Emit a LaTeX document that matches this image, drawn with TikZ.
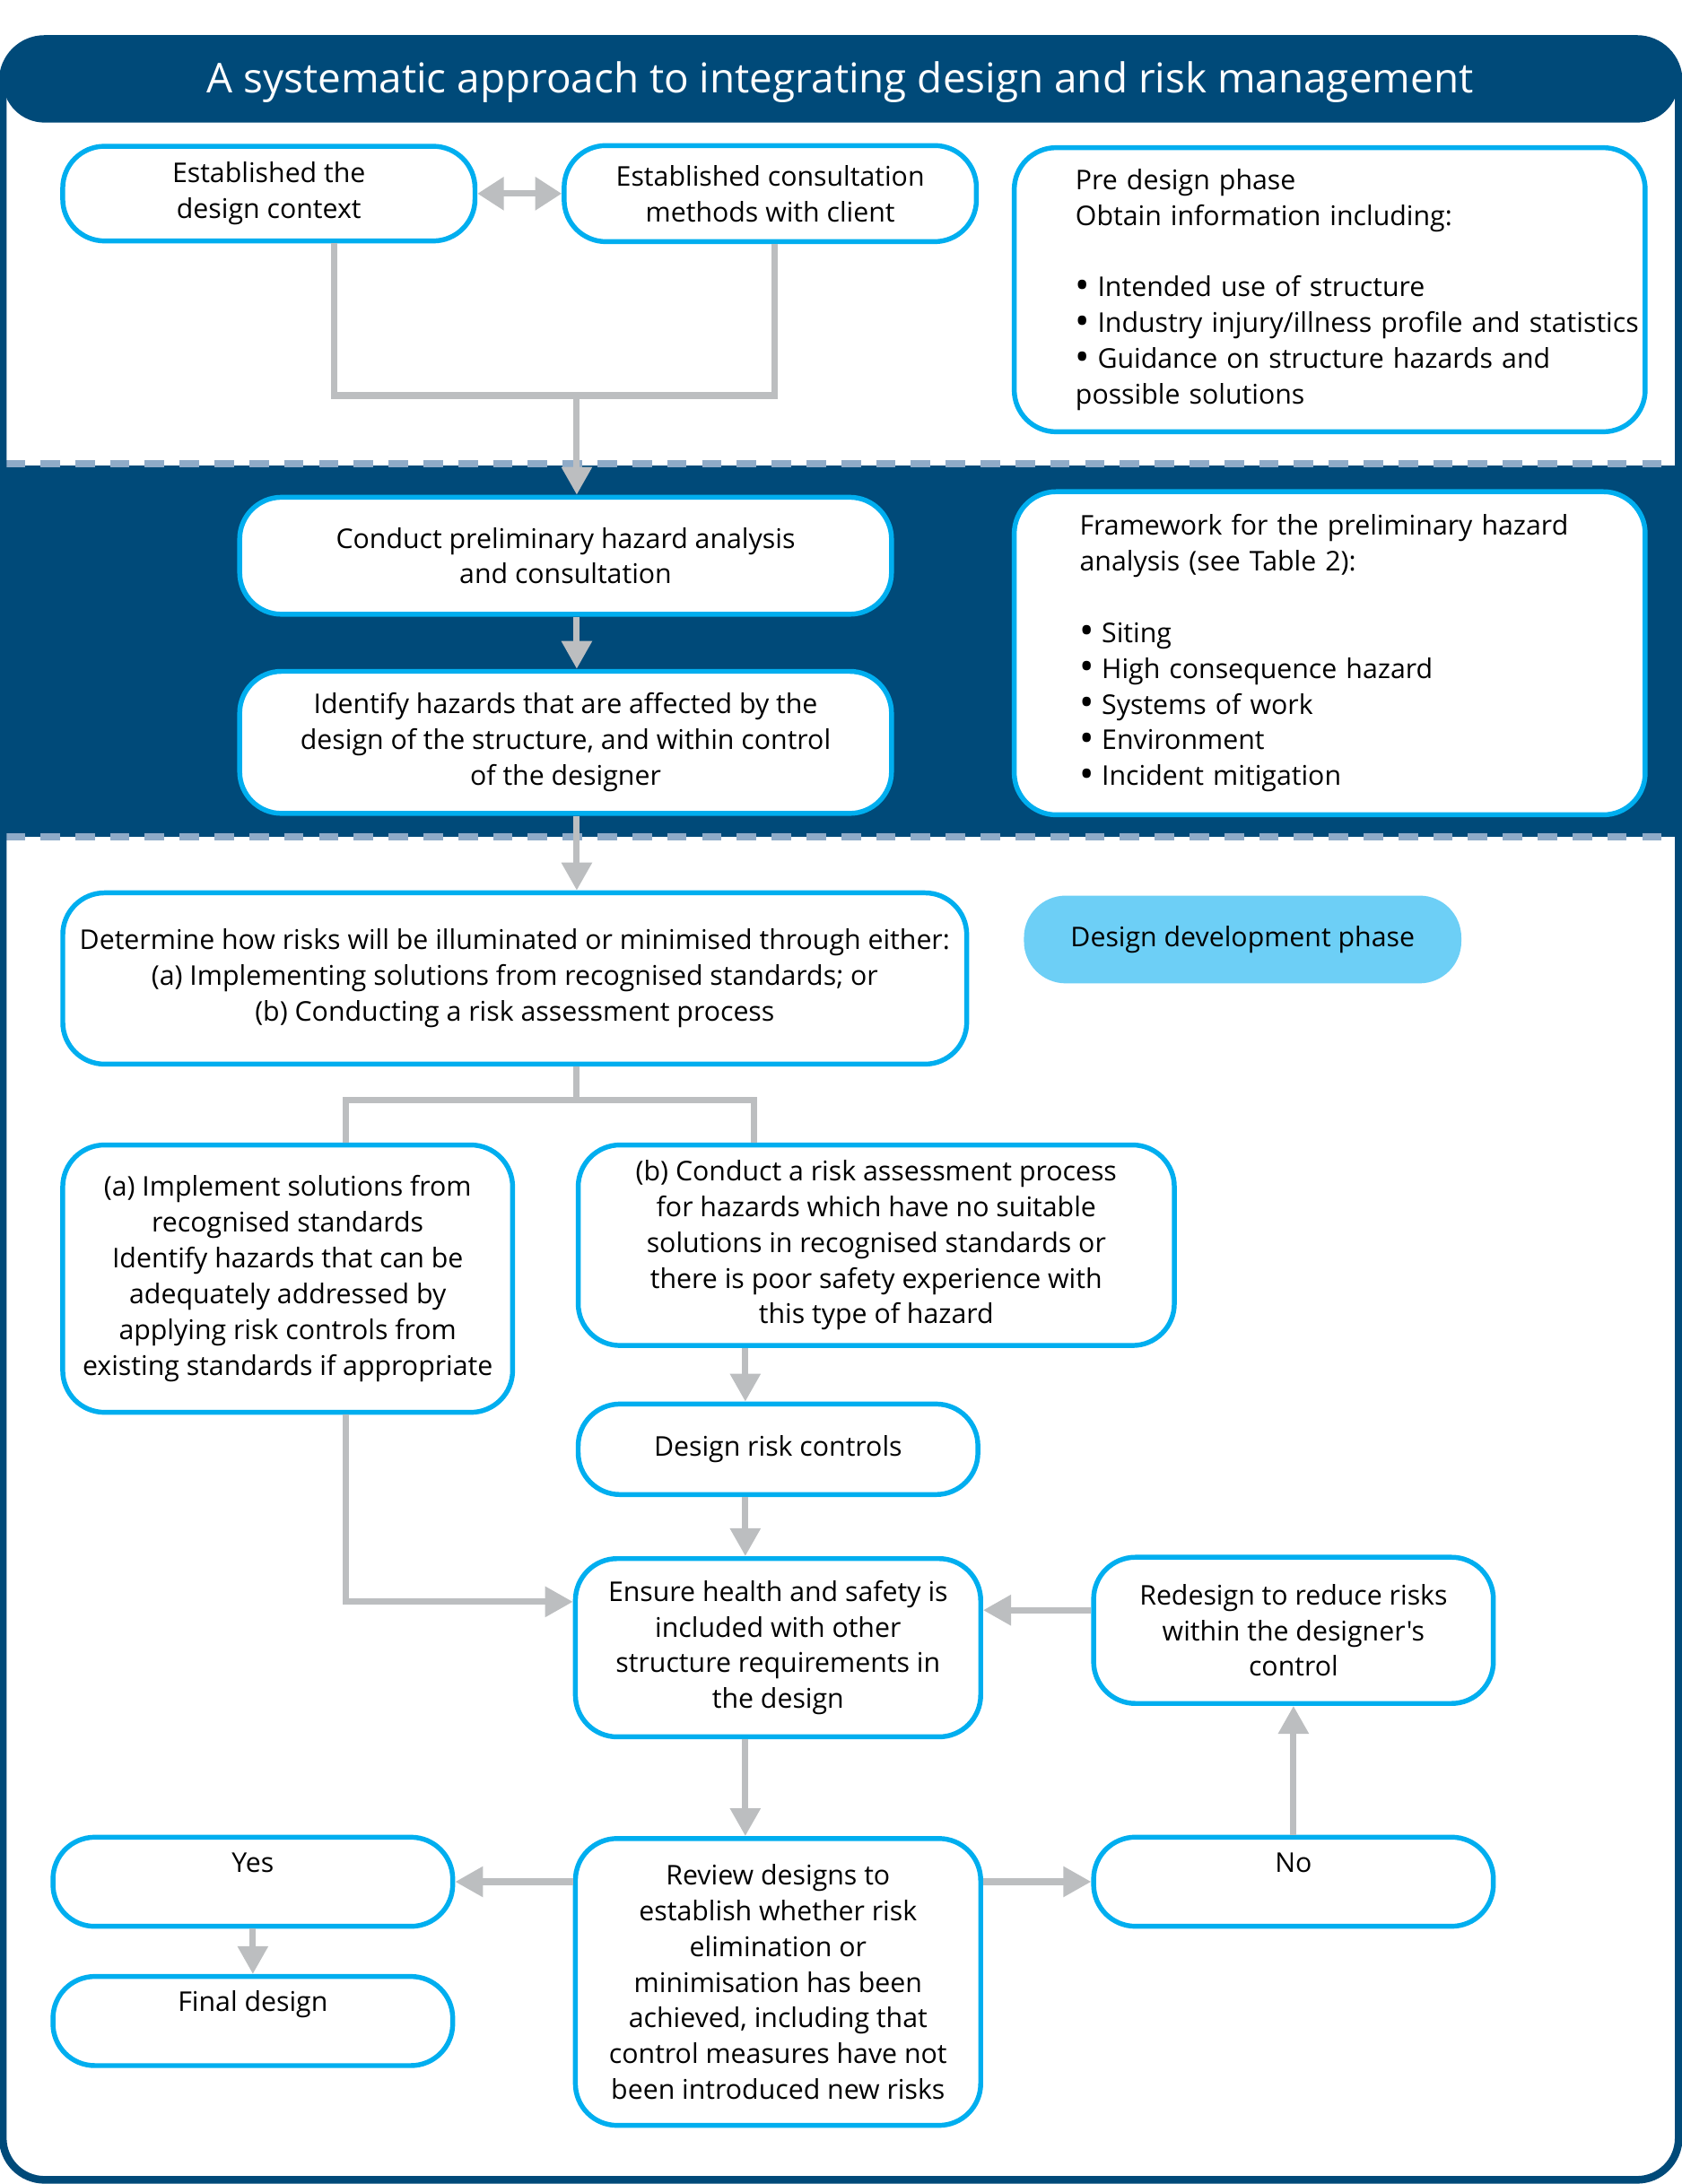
\documentclass[tikz,border=0pt]{standalone}
\usepackage{fontspec}
\setmainfont{Open Sans}[Ligatures=TeXOff]
\usepackage{tikz}
\usetikzlibrary{arrows.meta, positioning}
\definecolor{navy}{RGB}{0,74,121}
\definecolor{cyanline}{RGB}{0,174,239}
\definecolor{dashblue}{RGB}{143,171,200}
\definecolor{phasefill}{RGB}{109,207,246}
\definecolor{linkgray}{RGB}{188,190,192}
\newcommand{\dotitem}{{\fontsize{16}{14.6}\selectfont\raisebox{-0.9pt}{•}}\hspace{3pt}}
\tikzstyle{stage} = [rectangle, rounded corners=0.6cm, draw=cyanline, line width=2pt, fill=white, align=center, font=\fontsize{11.1}{14.6}\selectfont]
\tikzstyle{answer} = [stage, minimum width=5.74cm, text height=0.5cm, text depth=0.78cm, inner ysep=0pt]
\tikzstyle{notes} = [stage, align=left, text width=9.06cm, inner xsep=0pt]
\tikzstyle{link} = [linkgray, line width=2.6pt]
\tikzstyle{arrow} = [link, -{Triangle[width=0.42cm, length=0.4cm]}]
\tikzstyle{twoway} = [link, {Triangle[width=0.46cm, length=0.38cm]}-{Triangle[width=0.46cm, length=0.38cm]}]
\tikzstyle{divider} = [dashblue, line width=0.1cm, dash pattern=on 0.28cm off 0.22cm]

\begin{document}
\begin{tikzpicture}[x=0.02cm, y=0.02cm]
    \useasboundingbox (0,0) rectangle (1207,-1568);
    % phases
    \fill [navy] (2,-334) rectangle (1205,-601);
    \draw [divider] (4,-333) -- (1203,-333);
    \draw [divider] (4,-601) -- (1203,-601);
    \fill [navy, rounded corners=0.6cm] (2,-28) rectangle (1205,-88);
    \draw [navy, line width=0.11cm, rounded corners=0.6cm] (2,-28) rectangle (1205,-1565);
    \node (title) [text=white, font=\fontsize{16.8}{20}\selectfont] at (603,-59) {A systematic approach to integrating design and risk management};

    % pre design
    \node (ctx) [stage, minimum width=5.92cm, minimum height=1.36cm] at (193,-139) {Established the\\design context};
    \node (consult) [stage, right of=ctx, node distance=7.2cm, minimum width=5.92cm, minimum height=1.38cm] {Established consultation\\methods with client};
    \node (pre) [notes, minimum height=4.08cm, execute at begin node={\leftskip=0.88cm}] at (954.5,-208) {Pre design phase\\Obtain information including:\\[14.6pt]%
        \dotitem Intended use of structure\\\dotitem Industry injury/illness profile and statistics\\\dotitem Guidance on structure hazards and\\possible solutions};

    % preliminary hazard analysis
    \node (conduct) [stage, minimum width=9.36cm, minimum height=1.68cm] at (406,-399) {Conduct preliminary hazard analysis\\and consultation};
    \node (identify) [stage, below of=conduct, node distance=2.68cm, minimum width=9.36cm, minimum height=2.04cm] {Identify hazards that are affected by the\\design of the structure, and within control\\of the designer};
    \node (framework) [notes, minimum height=4.64cm, execute at begin node={\leftskip=0.94cm}] at (954.5,-469) {Framework for the preliminary hazard\\analysis (see Table 2):\\[14.6pt]%
        \dotitem Siting\\\dotitem High consequence hazard\\\dotitem Systems of work\\\dotitem Environment\\\dotitem Incident mitigation};

    % design development
    \node (determine) [stage, minimum width=12.98cm, minimum height=2.46cm] at (369.5,-702.5) {Determine how risks will be illuminated or minimised through either:\\(a) Implementing solutions from recognised standards; or\\(b) Conducting a risk assessment process};
    \node (phase) [rectangle, rounded corners=0.6cm, fill=phasefill, minimum width=6.28cm, minimum height=1.26cm, font=\fontsize{11.1}{14.6}\selectfont] at (892,-674.5) {Design development phase};
    \node (implA) [stage, minimum width=6.46cm, minimum height=3.84cm] at (206.5,-918) {(a) Implement solutions from\\recognised standards\\Identify hazards that can be\\adequately addressed by\\applying risk controls from\\existing standards if appropriate};
    \node (implB) [stage, minimum width=8.56cm, minimum height=2.88cm] at (629,-894) {(b) Conduct a risk assessment process\\for hazards which have no suitable\\solutions in recognised standards or\\there is poor safety experience with\\this type of hazard};
    \node (controls) [stage, minimum width=5.74cm, minimum height=1.3cm] at (558.5,-1040.5) {Design risk controls};
    \node (ensure) [stage, below of=controls, node distance=2.85cm, minimum width=5.82cm, minimum height=2.56cm] {Ensure health and safety is\\included with other\\structure requirements in\\the design};
    \node (review) [stage, below of=ensure, node distance=4.8cm, minimum width=5.82cm, minimum height=4.12cm] {Review designs to\\establish whether risk\\elimination or\\minimisation has been\\achieved, including that\\control measures have not\\been introduced new risks};
    \node (redesign) [stage, minimum width=5.74cm, minimum height=2.1cm] at (928.5,-1170.5) {Redesign to reduce risks\\within the designer's\\control};
    \node (no) [answer, below of=redesign, node distance=3.61cm] {No};
    \node (yes) [answer] at (181.5,-1351) {Yes};
    \node (final) [answer, below of=yes, node distance=2cm] {Final design};

    % connectors
    \coordinate (spine) at (414,0);
    \coordinate (col) at (535,0);
    \coordinate (joinL) at (240,-284);
    \coordinate (joinR) at (556,-284);
    \coordinate (forkL) at (248,-790);
    \coordinate (forkR) at (541,-790);
    \coordinate (back) at ([yshift=0.29cm]redesign.west);
    \draw [twoway] (ctx.east) -- (consult.west);
    \draw [link] (ctx.south -| joinL) |- (joinR) -- (consult.south -| joinR);
    \draw [arrow] (spine |- joinL) -- (conduct.north -| spine);
    \draw [arrow] (conduct.south -| spine) -- (identify.north -| spine);
    \draw [arrow] (identify.south -| spine) -- (determine.north -| spine);
    \draw [link] (determine.south -| spine) -- (spine |- forkL);
    \draw [link] (implA.north -| forkL) |- (forkR) -- (implB.north -| forkR);
    \draw [arrow] (implB.south -| col) -- (controls.north -| col);
    \draw [arrow] (controls.south -| col) -- (ensure.north -| col);
    \draw [arrow] (implA.south -| forkL) |- ([yshift=0.66cm]ensure.west);
    \draw [arrow] (back) -- (back -| ensure.east);
    \draw [arrow] (ensure.south -| col) -- (review.north -| col);
    \draw [arrow] (review.west |- yes.east) -- (yes.east);
    \draw [arrow] (review.east |- no.west) -- (no.west);
    \draw [arrow] (no.north) -- (redesign.south);
    \draw [arrow] (yes.south) -- (final.north);
\end{tikzpicture}
\end{document}
